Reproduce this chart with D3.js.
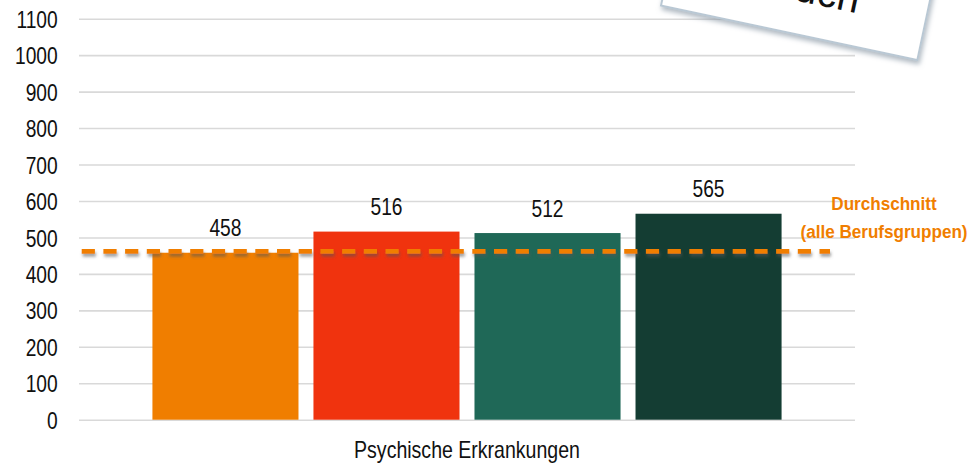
<!DOCTYPE html>
<html><head><meta charset="utf-8">
<script src="https://cdn.jsdelivr.net/npm/d3@7/dist/d3.min.js"></script>
<style>
html,body{margin:0;padding:0;background:#fff;}
svg{display:block;font-family:"Liberation Sans",Arial,sans-serif;}
</style></head>
<body><svg id="c" width="971" height="465"></svg>
<script>
const categories = ["Psychische Erkrankungen"];
const seriesNames = ["Gruppe 1", "Gruppe 2", "Gruppe 3", "Gruppe 4"];
const seriesValues = [458, 516, 512, 565];
const seriesColors = ["#F07E00", "#F0330E", "#1F6857", "#143D33"];
const yTicks = [0,100,200,300,400,500,600,700,800,900,1000,1100];
const averageValue = 462;
const averageLabel = ["Durchschnitt", "(alle Berufsgruppen)"];
const noteText = "auch";

(function(){
const svg = d3.select("#c");
const defs = svg.append("defs");
const f1 = defs.append("filter").attr("id","lineShadow").attr("filterUnits","userSpaceOnUse")
  .attr("x",0).attr("y",0).attr("width",971).attr("height",465);
f1.append("feDropShadow").attr("dx",1).attr("dy",3).attr("stdDeviation",1.8).attr("flood-color","#555").attr("flood-opacity",0.55);
const f2 = defs.append("filter").attr("id","boxShadow").attr("x","-10%").attr("y","-10%").attr("width","130%").attr("height","130%");
f2.append("feDropShadow").attr("dx",2).attr("dy",3).attr("stdDeviation",2.5).attr("flood-color","#7a8a99").attr("flood-opacity",0.6);

const mLeft = 79, mRight = 855, mTop = 18.7, mBottom = 419.7;
const y = d3.scaleLinear().domain([0,1100]).range([mBottom, mTop]);
const x0 = d3.scaleBand().domain(categories).range([mLeft, mRight]).padding(0);
const x1 = d3.scaleBand().domain(seriesNames).range([0, x0.bandwidth()]).paddingInner(0.093).paddingOuter(0.456);

const sx = 0.8;
const ax = svg.append("g").attr("transform",`translate(${mLeft},0)`)
  .call(d3.axisLeft(y).tickValues(yTicks).tickSize(-(mRight-mLeft)).tickPadding(0).tickFormat(d3.format("d")));
ax.select(".domain").remove();
ax.selectAll(".tick line").attr("stroke","#d9d9d9").attr("stroke-width",1.6);
ax.selectAll(".tick text")
  .attr("font-family","'Liberation Sans',Arial,sans-serif")
  .attr("font-size",24).attr("fill","#111")
  .attr("transform",`scale(${sx},1)`)
  .attr("x",-21.3/sx).attr("dy","0.36em");

const cat = svg.append("g").selectAll("g").data(categories).join("g")
  .attr("transform", d => `translate(${x0(d)},0)`);
cat.selectAll("rect").data(seriesNames.map((n,i)=>({n, v:seriesValues[i], c:seriesColors[i]})))
  .join("rect")
  .attr("x", d => x1(d.n)).attr("width", x1.bandwidth())
  .attr("y", d => y(d.v)).attr("height", d => y(0)-y(d.v))
  .attr("fill", d => d.c);
cat.selectAll("g.lbl").data(seriesNames.map((n,i)=>({n, v:seriesValues[i]})))
  .join("g").attr("class","lbl")
  .attr("transform", d => `translate(${x1(d.n)+x1.bandwidth()/2},${y(d.v)-16.5}) scale(${sx},1)`)
  .append("text").attr("text-anchor","middle").attr("font-size",24).attr("fill","#111")
  .text(d => d.v);

svg.append("g").attr("transform",`translate(${x0(categories[0])+x0.bandwidth()/2},458) scale(0.85,1)`)
  .append("text").attr("text-anchor","middle").attr("font-size",23).attr("fill","#111").text(categories[0]);

svg.append("line")
  .attr("x1",81.7).attr("x2",830).attr("y1",y(averageValue)).attr("y2",y(averageValue))
  .attr("stroke","#F07E00").attr("stroke-width",4.8).attr("stroke-dasharray","13.2,8.5")
  .attr("filter","url(#lineShadow)");
averageLabel.forEach((t,i)=>{
  svg.append("g").attr("transform",`translate(884,${210+i*28}) scale(0.9,1)`)
    .append("text").attr("text-anchor","middle").attr("font-size",19).attr("font-weight","bold")
    .attr("fill","#F07E00").text(t);
});

const note = svg.append("g").attr("transform","translate(917.3,60) rotate(12)");
note.append("rect").attr("x",-262).attr("y",-160).attr("width",262).attr("height",160)
  .attr("fill","#fff").attr("stroke","#b9c8d4").attr("stroke-width",2).attr("filter","url(#boxShadow)");
note.append("text").attr("x",-69).attr("y",-33).attr("text-anchor","end")
  .attr("font-size",40).attr("fill","#111").text(noteText);
})();
</script></body></html>
